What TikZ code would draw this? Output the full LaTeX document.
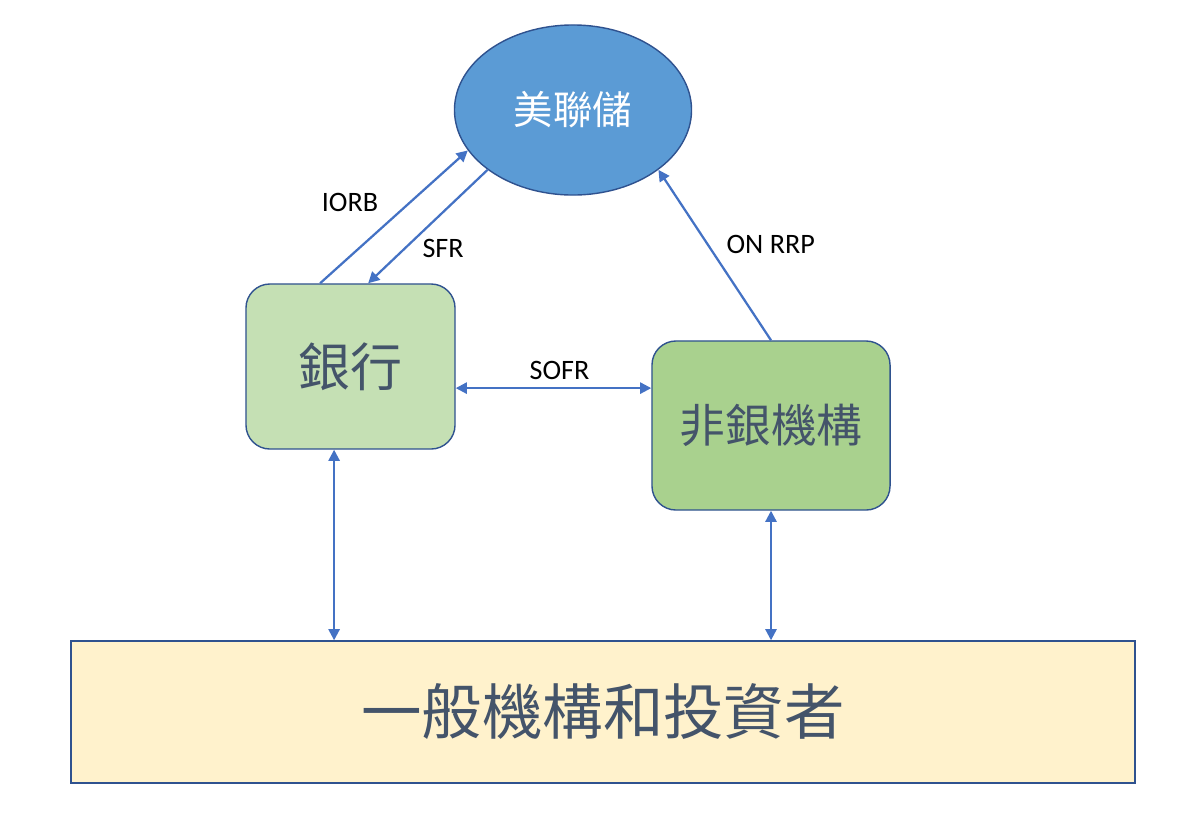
\documentclass[tikz,border=0pt]{standalone}
\usepackage{fontspec}
\setmainfont{Carlito}
\newfontfamily\cjk{Noto Sans CJK TC}
\usetikzlibrary{arrows.meta,positioning,shapes.geometric}
\definecolor{linkblue}{HTML}{4472C4}
\definecolor{edgeblue}{HTML}{2F528F}
\definecolor{fedfill}{HTML}{5B9BD5}
\definecolor{bankfill}{HTML}{C5E0B4}
\definecolor{nbfill}{HTML}{A9D18E}
\definecolor{basefill}{HTML}{FFF2CC}
\definecolor{boxtext}{HTML}{44546A}
\begin{document}
\begin{tikzpicture}[x=0.025cm,y=-0.025cm,
  inst/.style={draw=edgeblue,line width=1pt,rounded corners=0.6cm,text=boxtext},
  link/.style={draw=linkblue,line width=1.6pt,-{Triangle[length=8pt,width=8pt]}},
  both/.style={link,{Triangle[length=8pt,width=8pt]}-{Triangle[length=8pt,width=8pt]}},
  lab/.style={font=\fontsize{20}{24}\selectfont,text=black,inner sep=0pt}]
\useasboundingbox (0,0) rectangle (1200,836);
\node[ellipse,draw=edgeblue,line width=1pt,fill=fedfill,text=white,minimum width=5.925cm,minimum height=4.25cm,font=\cjk\fontsize{28}{31}\selectfont] (fed) at (573,110) {美聯儲};
\node[inst,fill=bankfill,minimum width=5.225cm,minimum height=4.125cm,font=\cjk\fontsize{37}{41}\selectfont] (bank) at (350.5,366.5) {銀行};
\node[inst,fill=nbfill,minimum width=5.95cm,minimum height=4.225cm,font=\cjk\fontsize{32.5}{36}\selectfont] (nonbank) at (771,425.5) {非銀機構};
\node[draw=edgeblue,line width=1pt,fill=basefill,text=boxtext,minimum width=26.6cm,minimum height=3.55cm,font=\cjk\fontsize{43}{48}\selectfont] (base) at (603,712) {一般機構和投資者};
% flows to and from the Fed
\draw[link] ([xshift=-0.76cm]bank.north) -- node[lab,xshift=-1.1cm,yshift=0.35cm]{IORB} (fed.201);
\draw[link] (fed.215) -- node[lab,xshift=0.38cm,yshift=-0.55cm]{SFR} ([xshift=0.44cm]bank.north);
\draw[link] (nonbank.north) -- node[lab,xshift=1.4cm,yshift=0.26cm]{ON RRP} (fed.325);
% market links
\draw[both] ([yshift=-0.54cm]bank.east) -- node[lab,above=5pt,xshift=0.15cm]{SOFR} ([yshift=-0.54cm]bank.east -| nonbank.west);
\draw[both] ([xshift=-0.41cm]bank.south) -- ([xshift=-0.41cm]bank.south |- base.north);
\draw[both] (nonbank.south) -- (nonbank.south |- base.north);
\end{tikzpicture}
\end{document}
